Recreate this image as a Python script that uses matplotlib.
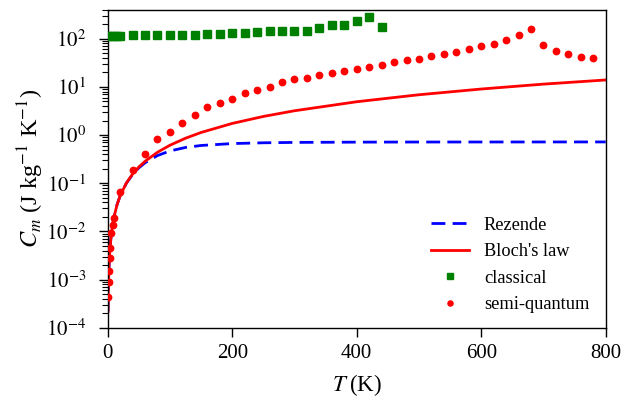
import matplotlib
matplotlib.use("Agg")
import matplotlib.pyplot as plt
from matplotlib.ticker import FixedLocator, LogLocator, FuncFormatter, NullFormatter

plt.rcParams['font.family'] = ['Liberation Serif', 'DejaVu Serif']
plt.rcParams['mathtext.fontset'] = 'stix'

# Lines
T_line = [0.5, 1, 2, 3, 5, 7, 10, 15, 20, 30, 40, 50, 60, 80, 100, 125, 150,
          200, 250, 300, 400, 500, 600, 700, 800]
rezende = [0.000217, 0.000614, 0.00174, 0.00319, 0.00686, 0.0114, 0.0194, 0.0357,
           0.0547, 0.100, 0.1515, 0.208, 0.265, 0.375, 0.467, 0.552, 0.607,
           0.665, 0.690, 0.703, 0.712, 0.716, 0.717, 0.718, 0.719]
bloch = [0.000217, 0.000614, 0.00174, 0.00319, 0.00686, 0.0114, 0.0194, 0.0357,
         0.0549, 0.101, 0.155, 0.217, 0.285, 0.439, 0.614, 0.858, 1.13,
         1.74, 2.43, 3.19, 4.91, 6.86, 9.02, 11.4, 13.9]

# classical (green squares)
T_cl = [1, 5, 10, 15, 20, 40, 60, 80, 100, 120, 140, 160, 180, 200, 220, 240,
        260, 280, 300, 320, 340, 360, 380, 400, 420, 440]
C_cl = [113, 113, 113, 113, 114, 117, 119, 119, 119, 121, 119, 123, 125, 129,
        133, 138, 144, 144, 147, 143, 169, 192, 192, 233, 278, 177]

# semi-quantum (red dots)
T_sq = [1.0, 1.5, 2.0, 3.0, 4.0, 6.0, 8.0, 10, 20, 40, 60, 80, 100, 120, 140,
        160, 180, 200, 220, 240, 260, 280, 300, 320, 340, 360, 380, 400, 420,
        440, 460, 480, 500, 520, 540, 560, 580, 600, 620, 640, 660, 680, 700,
        720, 740, 760, 780]
C_sq = [0.00043, 0.00091, 0.00151, 0.00286, 0.0046, 0.0092, 0.0136, 0.019,
        0.067, 0.189, 0.40, 0.818, 1.18, 1.78, 2.58, 3.77, 4.70, 5.69, 7.37,
        8.75, 10.1, 12.5, 14.4, 15.1, 17.4, 19.7, 21.7, 23.9, 25.5, 28.1, 33.3,
        36.1, 37.4, 44.4, 47.5, 53.7, 61.1, 70.6, 78.8, 92.6, 121, 161, 74,
        55.6, 47.5, 41.7, 39.2]

x_ticks = [0, 200, 400, 600, 800]

fig = plt.figure(figsize=(6.35, 3.99), dpi=100)
ax = fig.add_axes([0.1696, 0.1787, 0.7843, 0.797])

ax.plot(T_line, rezende, color='#0000ff', lw=2.0, linestyle=(0, (5, 2.6)), label='Rezende')
ax.plot(T_line, bloch, color='#ff0000', lw=2.0, label="Bloch's law")
ax.plot(T_cl, C_cl, 's', color='#008000', ms=5.2, mec='#008000', label='classical', zorder=3)
ax.plot(T_sq, C_sq, 'o', color='#ff0000', ms=4.6, mec='#ff0000', label='semi-quantum', zorder=3)

ax.set_yscale('log')
ax.set_xlim(0, 800)
ax.set_ylim(1e-4, 400)
ax.xaxis.set_major_locator(FixedLocator(x_ticks))
ax.yaxis.set_major_locator(LogLocator(base=10, numticks=20))
ax.yaxis.set_minor_locator(LogLocator(base=10, subs=[2, 3, 4, 5, 6, 7, 8, 9], numticks=20))
ax.yaxis.set_minor_formatter(NullFormatter())

def fmt(v, pos):
    import math
    e = int(round(math.log10(v)))
    return r'$10^{%d}$' % e
ax.yaxis.set_major_formatter(FuncFormatter(fmt))

ax.tick_params(axis='both', which='major', direction='out', length=6.5, width=1.0,
               labelsize=15, top=False, right=False)
ax.tick_params(axis='y', which='major', pad=9)
ax.tick_params(axis='x', which='major', pad=5)
ax.tick_params(axis='y', which='minor', direction='out', length=4.5, width=0.8, right=False)
for s in ax.spines.values():
    s.set_linewidth(1.0)

ax.set_xlabel(r'$T\;$(K)', fontsize=16.5, labelpad=7)
ax.set_ylabel(r'$C_m$ (J kg$^{-1}$ K$^{-1}$)', fontsize=17.5, labelpad=0)

leg = ax.legend(loc='lower right', frameon=False, fontsize=13.2, handlelength=2.1,
                labelspacing=0.52, markerscale=0.8, bbox_to_anchor=(1.0, -0.006))

fig.savefig('out.png', dpi=100)
